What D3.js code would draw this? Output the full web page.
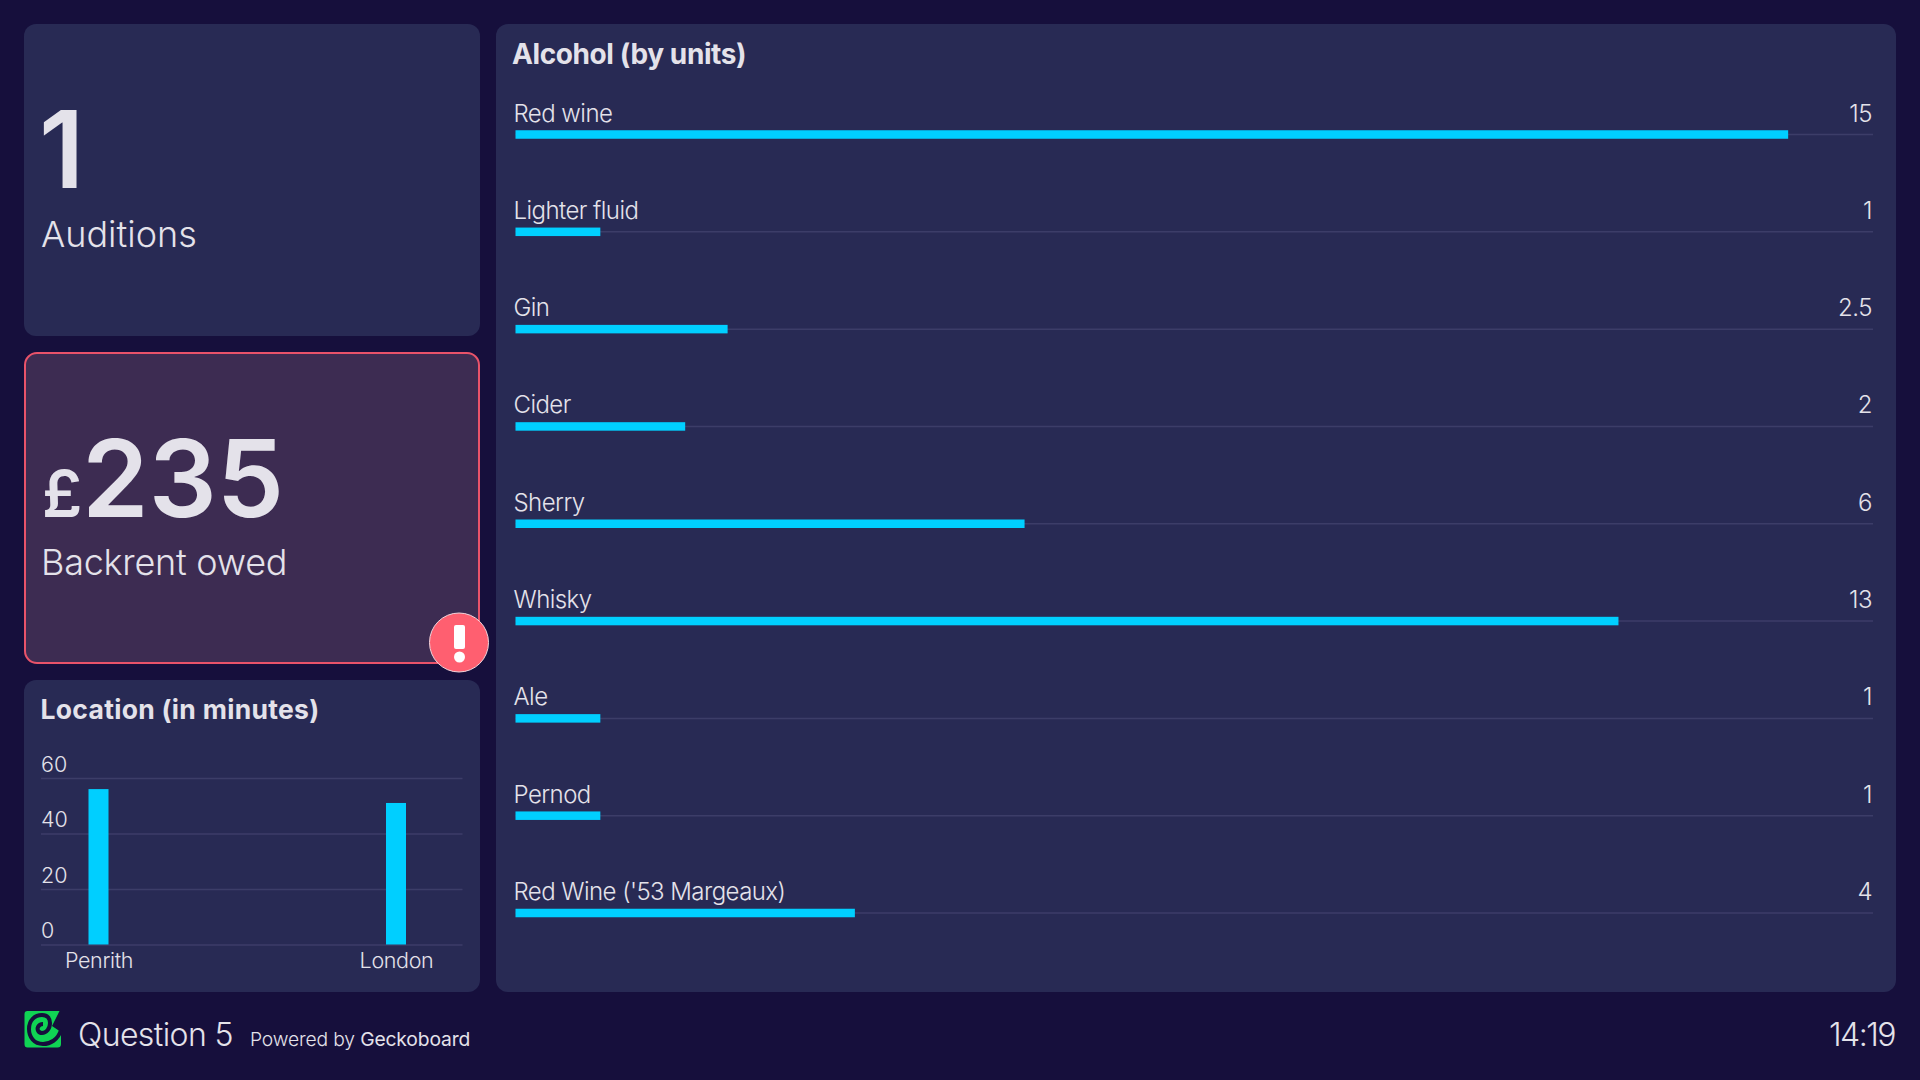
<!DOCTYPE html>
<html>
<head>
<meta charset="utf-8">
<script src="https://cdn.jsdelivr.net/npm/d3@7"></script>
<style>
  html, body { margin: 0; padding: 0; background: #160f3c; }
  svg { display: block; }
  text { font-family: Inter, "Open Sans", sans-serif; fill: #e4e2ea; }
</style>
</head>
<body>
<svg id="board" width="1920" height="1080"></svg>
<script>
const alcoholNames = ['Red wine', 'Lighter fluid', 'Gin', 'Cider', 'Sherry', 'Whisky', 'Ale', 'Pernod', "Red Wine ('53 Margeaux)"];
const alcoholUnits = [15, 1, 2.5, 2, 6, 13, 1, 1, 4];
const locations = ['Penrith', 'London'];
const locationMinutes = [56, 51];
const minuteTicks = [0, 20, 40, 60];

const BG_DARK = '#160f3c', BG_CARD = '#282a54', GRID = '#3c3d68', CYAN = '#00cfff', TEXT = '#e4e2ea', RED = '#ff5f70';

const svg = d3.select('#board');
svg.append('rect').attr('width', 1920).attr('height', 1080).attr('fill', BG_DARK);

function card(x, y, w, h) {
  return svg.append('rect').attr('x', x).attr('y', y).attr('width', w).attr('height', h)
    .attr('rx', 12).attr('fill', BG_CARD);
}
function label(x, y, str, size, weight) {
  return svg.append('text').attr('x', x).attr('y', y).attr('font-size', size)
    .attr('font-weight', weight).text(str);
}

// number widgets
card(24, 24, 456, 312);
label(39, 188, '1', 107, 600);
label(41, 246.5, 'Auditions', 36, 350);

card(25, 353, 454, 310).attr('fill', '#3d2c52').attr('stroke', '#e9536a').attr('stroke-width', 2);
label(42, 517, '£', 64, 600);
label(82, 517, '235', 107, 600);
label(41, 575, 'Backrent owed', 36, 350).attr('letter-spacing', -0.25);

svg.append('circle').attr('cx', 459).attr('cy', 642.5).attr('r', 29.5)
  .attr('fill', RED).attr('stroke', '#f3d5dc').attr('stroke-width', 1);
svg.append('rect').attr('x', 454).attr('y', 625).attr('width', 11).attr('height', 24).attr('rx', 2).attr('fill', '#fff');
svg.append('circle').attr('cx', 459.5).attr('cy', 657).attr('r', 5.5).attr('fill', '#fff');

// column chart
card(24, 680, 456, 312);
label(40.5, 719, 'Location (in minutes)', 26.5, 700).attr('letter-spacing', 0.3);

const y = d3.scaleLinear().domain([0, 60]).range([944.5, 778]);
const xCol = d3.scalePoint().domain(locations).range([98.5, 396]);

const yAxis = svg.append('g').attr('transform', 'translate(41,0)')
  .call(d3.axisRight(y).tickValues(minuteTicks).tickSize(421.5));
yAxis.select('.domain').remove();
yAxis.selectAll('line').attr('stroke', GRID).attr('stroke-width', 1.5);
yAxis.selectAll('text').attr('x', 0).attr('dy', -7).attr('font-size', 21.5).attr('font-weight', 350)
  .attr('text-anchor', 'start').attr('fill', TEXT);

svg.append('g').selectAll('rect').data(locationMinutes).join('rect')
  .attr('x', (d, i) => xCol(locations[i]) - 10)
  .attr('y', d => y(d))
  .attr('width', 20)
  .attr('height', d => y(0) - y(d))
  .attr('fill', CYAN);

const xAxis = svg.append('g').attr('transform', 'translate(0,944.5)')
  .call(d3.axisBottom(xCol).tickSize(0));
xAxis.select('.domain').remove();
xAxis.selectAll('text').attr('y', 23).attr('dy', 0).attr('font-size', 21.5).attr('font-weight', 350)
  .attr('letter-spacing', -0.35).attr('fill', TEXT);

// alcohol list
card(496, 24, 1400, 968);
label(512, 64, 'Alcohol (by units)', 28, 700).attr('letter-spacing', -0.4);

const xBar = d3.scaleLinear().domain([0, 16]).range([515.5, 1873]);
const rowY = d3.scalePoint().domain(alcoholNames).range([134.5, 913]);

const rows = svg.append('g').selectAll('g').data(alcoholNames).join('g')
  .attr('transform', d => `translate(0,${rowY(d)})`);
rows.append('line').attr('x1', xBar(0)).attr('x2', xBar(16)).attr('stroke', GRID).attr('stroke-width', 1.5);
rows.append('rect').attr('x', xBar(0)).attr('y', -4.25)
  .attr('width', (d, i) => xBar(alcoholUnits[i]) - xBar(0))
  .attr('height', 8.5).attr('fill', CYAN);
rows.append('text').attr('x', 513.5).attr('y', -13).attr('font-size', 24).attr('font-weight', 350)
  .attr('letter-spacing', -0.55).text(d => d);
rows.append('text').attr('x', 1872).attr('y', -13).attr('font-size', 24).attr('font-weight', 350)
  .attr('letter-spacing', -0.5).attr('text-anchor', 'end').text((d, i) => alcoholUnits[i]);

// footer
svg.append('path')
  .attr('d', 'M27.5,1011 L59.5,1011 L52,1026 L61,1032 L61,1044 Q61,1047.5 57.5,1047.5 L27.5,1047.5 Q24.5,1047.5 24.5,1044 L24.5,1014 Q24.5,1011 27.5,1011 Z')
  .attr('fill', '#10d354');
svg.append('path')
  .attr('d', 'M61,1030 C58,1040 50,1044 43,1044 C34,1044 29,1037 29,1029 C29,1020 35,1015 42,1015 C48,1015 50,1019 50,1023 C50,1029 46,1033 42,1033 C38,1033 37,1029 38,1027 C39,1025 41,1024 43,1024')
  .attr('fill', 'none').attr('stroke', BG_DARK).attr('stroke-width', 4);

label(78, 1046, 'Question 5', 32, 350).attr('letter-spacing', -0.6);
const powered = label(250, 1046, 'Powered by ', 19.3, 300).attr('fill', '#b9b7c6').attr('letter-spacing', -0.15);
powered.append('tspan').attr('fill', TEXT).attr('font-weight', 400).text('Geckoboard');
label(1895, 1046, '14:19', 32, 350).attr('text-anchor', 'end').attr('letter-spacing', -1.5);
</script>
</body>
</html>
